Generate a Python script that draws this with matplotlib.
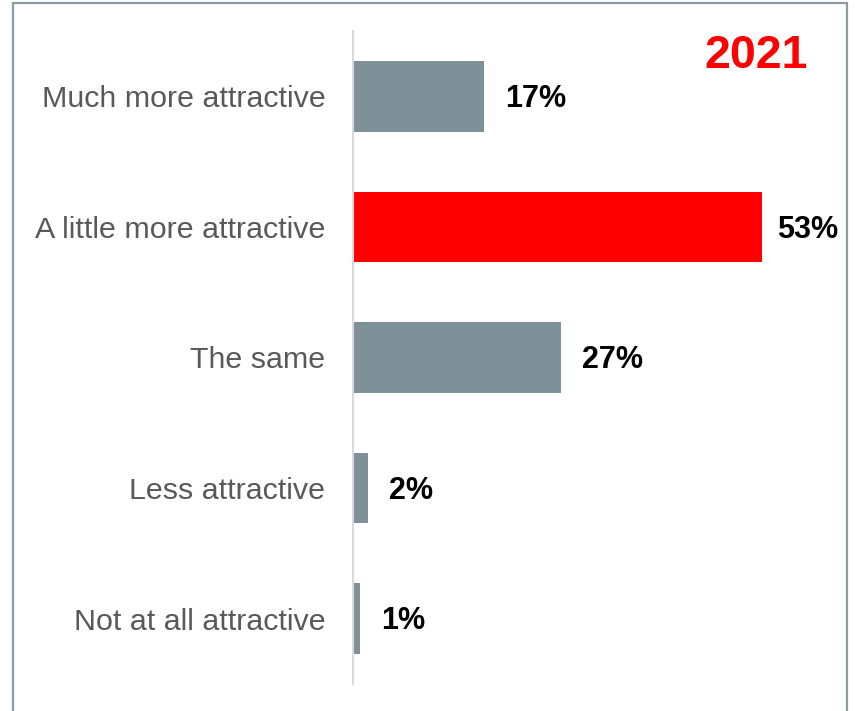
import matplotlib
matplotlib.use("Agg")
import matplotlib.pyplot as plt
from matplotlib.patches import Rectangle

# ── DATA ─────────────────────────────────────────────
categories = ["Much more attractive", "A little more attractive", "The same",
              "Less attractive", "Not at all attractive"]
values = [17, 53, 27, 2, 1]
labels = ["17%", "53%", "27%", "2%", "1%"]
bar_colors = ["#7E9098", "#FF0000", "#7E9098", "#7E9098", "#7E9098"]
year_label = "2021"

plt.rcParams['font.family'] = ['Liberation Sans', 'DejaVu Sans']

fig = plt.figure(figsize=(8.55, 7.11), dpi=100)
ax = fig.add_axes([0.4123, 0.038, 0.5877, 0.9184])

y = list(range(len(categories)))
ax.barh(y, values, height=0.54, color=bar_colors, zorder=2)
ax.set_ylim(len(categories) - 0.5, -0.5)
ax.set_xlim(0, 65)

ax.set_yticks(y)
ax.set_yticklabels(categories, fontsize=21.9, color="#595959")
ax.tick_params(axis="y", length=0, pad=19.5)
ax.set_xticks([])

for s in ["top", "right", "bottom"]:
    ax.spines[s].set_visible(False)
ax.spines["left"].set_color("#D9D9D9")
ax.spines["left"].set_linewidth(1.5)

# value labels, pulled in a bit when they would hit the frame
for yi, v, lab in zip(y, values, labels):
    off = 15 if v > 50 else 21
    ax.annotate(lab, xy=(v, yi), xytext=(off * 0.72, -2), textcoords="offset points",
                ha="left", va="center", fontsize=22, fontweight="bold", color="black")

fig.text(0.8845, 0.921, year_label, ha="center", va="center",
         fontsize=33.5, fontweight="bold", color="#FF0000")

# outer frame (bottom edge runs off the picture)
frame = Rectangle((13 / 855, -0.1), (847 - 13) / 855, 1 - 3 / 711 + 0.1,
                  transform=fig.transFigure, fill=False, edgecolor="#8C9CA4",
                  linewidth=1.6, clip_on=False)
fig.patches.append(frame)

fig.savefig("out.png", dpi=100)
